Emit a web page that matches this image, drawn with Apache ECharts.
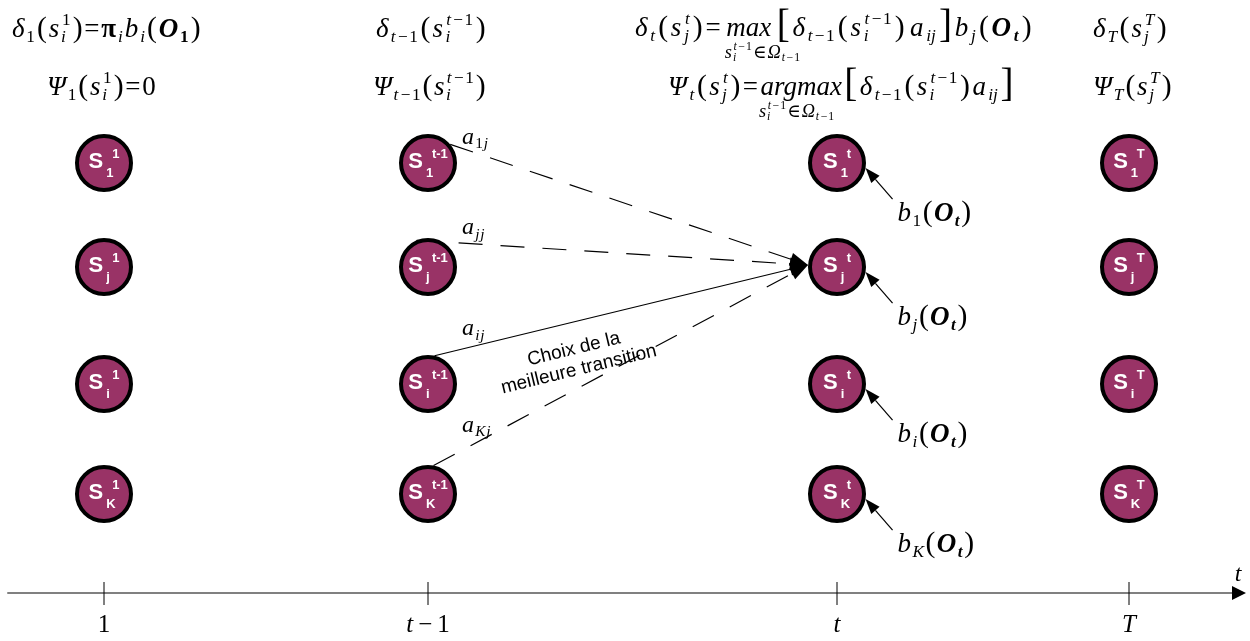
<!DOCTYPE html>
<html><head><meta charset="utf-8">
<script src="https://cdn.jsdelivr.net/npm/echarts@6/dist/echarts.min.js"></script>
<style>html,body{margin:0;padding:0;background:#fff}#c{width:1250px;height:641px}</style>
</head><body><div id="c"></div>
<script>
// ---------------- data ----------------
const timeLabels = ['1', 't−1', 't', 'T'];          // time steps shown on the axis
const timePos = [104, 428, 837, 1129];              // axis values of the time steps
const stateLabels = ['1', 'j', 'i', 'K'];           // state indices (rows)
const statePos = [163, 267, 384, 494];              // vertical values of the rows
const stepSuperscripts = ['1', 't-1', 't', 'T'];    // superscript in every node of a column
const transitionFrom = [0, 1, 2, 3];                // rows at t-1 feeding state j at t
const transitionTo = 1;
const transitionSubs = ['1j', 'jj', 'ij', 'Kj'];
const transitionBest = [0, 0, 1, 0];
const emissionSubs = ['1', 'j', 'i', 'K'];
const bestLabel = 'Choix de la\nmeilleure transition';

// ---------------- styles ----------------
const SERIF = '"Liberation Serif", "DejaVu Serif", serif';
const SANS = '"Liberation Sans", Arial, sans-serif';
const NODE_FILL = '#993366';
const R = 27, RO = 29;
const X_MIN = 8, X_MAX = 1235, Y_MAX = 593;
const startAngles = [-40, -113, -77, -79];
const SCRIPT = 0.64, LIMS = 0.68, SP = 0.05;

const mctx = document.createElement('canvas').getContext('2d');
function measure(text, st, wt, sz, fam) {
  mctx.font = `${st} ${wt} ${sz}px ${fam || SERIF}`;
  return mctx.measureText(text).width;
}
// ---- tiny math layout ----
const I = t => [t, 'i'], Rm = t => [t, 'r'], BI = t => [t, 'b'], BR = t => [t, 'B'];
const LP = ['(', 'r', 1.1, 0.02], RP = [')', 'r', 1.1, 0.02];
const LB = ['[', 'r', 1.45, 0.06], RB = [']', 'r', 1.45, 0.06];
const sub = (...a) => ({ sub: a });
const ss = (b, p) => ({ sub: b, sup: p });
const gap = g => ({ gap: g });
const scr = ch => /[0-9]/.test(ch) ? Rm(ch) : I(ch);
const tm1 = [I('t'), gap(0.08), Rm('−'), gap(0.04), Rm('1')];

function layout(tokens, size, x, base, out, extra) {
  let cx = x;
  extra = extra || 0;
  for (const tk of tokens) {
    if (Array.isArray(tk)) {
      const [text, code, scale = 1, dy = 0] = tk;
      const sz = size * scale;
      const st = (code === 'i' || code === 'b') ? 'italic' : 'normal';
      const wt = (code === 'b' || code === 'B') ? 'bold' : 'normal';
      const w = measure(text, st, wt, sz);
      if (out) out.push({
        type: 'text', x: cx, y: base + dy * size - 0.34 * sz, silent: true,
        style: { text, fontSize: sz, fontFamily: SERIF, fontStyle: st, fontWeight: wt,
                 fill: '#000', align: 'left', verticalAlign: 'middle' }
      });
      cx += w + SP * size;
    } else if (tk.gap !== undefined) {
      cx += tk.gap * size;
      continue;
    } else if (tk.under) {
      const wU = layout(tk.under, size, cx, base, out);
      layout(tk.lim, size * LIMS, cx - 0.05 * size, base + 0.78 * size, out);
      cx += wU;
    } else {
      const s2 = size * SCRIPT;
      let w1 = 0, w2 = 0;
      if (tk.sub) w1 = layout(tk.sub, s2, cx, base + 0.15 * size, out);
      if (tk.sup) w2 = layout(tk.sup, s2, cx + 0.03 * size, base - 0.46 * size, out);
      cx += Math.max(w1, w2 + 0.03 * size) + 0.03 * size;
    }
    cx += extra;
  }
  return cx - x - extra;
}
// lay a formula out so that it spans [x0, x1], spreading the spare room between its parts
function justified(tokens, size, x0, x1, base, out) {
  const w = layout(tokens, size, 0, 0, null);
  const n = tokens.filter(t => !(t && t.gap !== undefined)).length;
  const extra = n > 1 ? (x1 - x0 - w) / (n - 1) : 0;
  layout(tokens, size, x0, base, out, extra);
}

const LIM = [I('s'), ss([I('i')], tm1), Rm('∈'), I('Ω'), sub(...tm1)];
const formulas = [
  // [tokens, left, right, baseline]
  [[I('δ'), sub(Rm('1')), LP, I('s'), ss([I('i')], [Rm('1')]), RP, Rm('='), BR('π'), sub(I('i')), I('b'), sub(I('i')), LP, BI('O'), sub(BR('1')), RP], 12, 202, 39],
  [[I('δ'), sub(...tm1), LP, I('s'), ss([I('i')], tm1), RP], 376, 487, 39],
  [[I('δ'), sub(I('t')), LP, I('s'), ss([I('j')], [I('t')]), RP, Rm('='), gap(0.1), { under: [I('max')], lim: LIM }, gap(0.1), LB, I('δ'), sub(...tm1), LP, I('s'), ss([I('i')], tm1), RP, gap(0.1), I('a'), sub(I('ij')), RB, I('b'), sub(I('j')), LP, BI('O'), sub(BI('t')), RP], 635, 1033, 38],
  [[I('δ'), sub(I('T')), LP, I('s'), ss([I('j')], [I('T')]), RP], 1093, 1168, 39],
  [[I('Ψ'), sub(Rm('1')), LP, I('s'), ss([I('i')], [Rm('1')]), RP, Rm('='), Rm('0')], 47, 157, 97],
  [[I('Ψ'), sub(...tm1), LP, I('s'), ss([I('i')], tm1), RP], 373, 487, 97],
  [[I('Ψ'), sub(I('t')), LP, I('s'), ss([I('j')], [I('t')]), RP, Rm('='), { under: [I('argmax')], lim: LIM }, LB, I('δ'), sub(...tm1), LP, I('s'), ss([I('i')], tm1), RP, I('a'), sub(I('ij')), RB], 668, 1015, 97],
  [[I('Ψ'), sub(I('T')), LP, I('s'), ss([I('j')], [I('T')]), RP], 1093, 1173, 97]
];
const formulaEls = [];
formulas.forEach(f => justified(f[0], 27, f[1], f[2], f[3], formulaEls));

function richTime(label) {
  return label.split('').map(c => /[A-Za-z]/.test(c) ? `{i|${c}}` : (c === '−' ? `{r|\u2009−\u2009}` : `{r|${c}}`)).join('');
}

// ---------------- series data ----------------
const nodeData = [];
timePos.forEach((x, c) => statePos.forEach((y, r) => nodeData.push([x, y, c, r])));
const transData = transitionFrom.map((r, k) => [timePos[1], statePos[r], timePos[2], statePos[transitionTo], k]);
const emisData = emissionSubs.map((s, r) => [timePos[2], statePos[r], r]);
const tickData = timePos.map(x => [x, Y_MAX]);

const chart = echarts.init(document.getElementById('c'), null, { renderer: 'canvas' });
chart.setOption({
  animation: false,
  backgroundColor: '#fff',
  grid: { left: X_MIN, right: 1250 - X_MAX, top: 0, bottom: 641 - Y_MAX },
  xAxis: {
    type: 'value', min: X_MIN, max: X_MAX, splitLine: { show: false },
    axisLine: { show: true, onZero: false, lineStyle: { color: '#808080', width: 2 } },
    axisTick: { show: false },
    axisLabel: {
      show: true, customValues: timePos, margin: 20, color: '#000',
      formatter: v => richTime(timeLabels[timePos.indexOf(v)]),
      rich: {
        i: { fontFamily: SERIF, fontStyle: 'italic', fontSize: 25, color: '#000' },
        r: { fontFamily: SERIF, fontSize: 25, color: '#000' }
      }
    },
    name: 't', nameLocation: 'end', nameGap: 3,
    nameTextStyle: { fontFamily: SERIF, fontStyle: 'italic', fontSize: 24, color: '#000',
                     align: 'center', verticalAlign: 'bottom', padding: [0, 0, 6, 0] }
  },
  yAxis: { type: 'value', min: 0, max: Y_MAX, inverse: true, show: false },
  graphic: [{ type: 'group', x: 0, y: 0, silent: true, children: formulaEls }],
  series: [
    { // axis ticks and arrow
      type: 'custom', z: 1, silent: true, clip: false, data: tickData,
      renderItem(params, api) {
        const p = api.coord([api.value(0), api.value(1)]);
        const ch = [{ type: 'line', shape: { x1: p[0], y1: p[1] - 11, x2: p[0], y2: p[1] + 12 },
                      style: { stroke: '#000', lineWidth: 1 } }];
        if (params.dataIndex === 0) {
          const cs = params.coordSys, ex = cs.x + cs.width;
          ch.push({ type: 'polygon', shape: { points: [[ex - 3, p[1] - 7], [ex + 11, p[1]], [ex - 3, p[1] + 7]] },
                    style: { fill: '#000' } });
        }
        return { type: 'group', children: ch };
      }
    },
    { // transitions
      type: 'custom', z: 2, silent: true, clip: false, data: transData,
      encode: { x: [0, 2], y: [1, 3] },
      renderItem(params, api) {
        const s = api.coord([api.value(0), api.value(1)]);
        const t = api.coord([api.value(2), api.value(3)]);
        const k = api.value(4);
        const a = startAngles[k] * Math.PI / 180;
        const P0 = [s[0] + RO * Math.cos(a), s[1] + RO * Math.sin(a)];
        const tip = [t[0] - RO, t[1] - 2];
        const dx = tip[0] - P0[0], dy = tip[1] - P0[1], L = Math.hypot(dx, dy);
        const ux = dx / L, uy = dy / L, AL = 18, AW = 13;
        const b = [tip[0] - ux * AL, tip[1] - uy * AL];
        const best = transitionBest[k] === 1;
        const ch = [
          { type: 'line', shape: { x1: P0[0], y1: P0[1], x2: b[0], y2: b[1] },
            style: { stroke: '#000', lineWidth: 1.2, lineDash: best ? null : [24, 18] } },
          { type: 'polygon', shape: { points: [tip, [b[0] - uy * AW / 2, b[1] + ux * AW / 2], [b[0] + uy * AW / 2, b[1] - ux * AW / 2]] },
            style: { fill: '#000' } }
        ];
        const lx = s[0] + 34, ly = P0[1] + (s[0] + 50 - P0[0]) * dy / dx - 8;
        layout([I('a'), sub(...transitionSubs[k].split('').map(scr))], 24, lx, ly, ch);
        if (best) {
          const m = [P0[0] + ux * 137 - uy * 37, P0[1] + uy * 137 + ux * 37];
          ch.push({ type: 'text', x: m[0], y: m[1], rotation: -Math.atan2(dy, dx),
                    style: { text: bestLabel, fontFamily: SANS, fontSize: 19, lineHeight: 21,
                             fill: '#000', align: 'center', verticalAlign: 'middle' } });
        }
        return { type: 'group', children: ch };
      }
    },
    { // emission arrows
      type: 'custom', z: 2, silent: true, clip: false, data: emisData,
      renderItem(params, api) {
        const c = api.coord([api.value(0), api.value(1)]);
        const r = api.value(2);
        const a = 10 * Math.PI / 180;
        const tip = [c[0] + RO * Math.cos(a), c[1] + RO * Math.sin(a)];
        const tail = [tip[0] + 27, tip[1] + 31];
        const dx = tip[0] - tail[0], dy = tip[1] - tail[1], L = Math.hypot(dx, dy);
        const ux = dx / L, uy = dy / L, AL = 15, AW = 11;
        const b = [tip[0] - ux * AL, tip[1] - uy * AL];
        const ch = [
          { type: 'line', shape: { x1: tail[0], y1: tail[1], x2: b[0], y2: b[1] }, style: { stroke: '#000', lineWidth: 1.2 } },
          { type: 'polygon', shape: { points: [tip, [b[0] - uy * AW / 2, b[1] + ux * AW / 2], [b[0] + uy * AW / 2, b[1] - ux * AW / 2]] },
            style: { fill: '#000' } }
        ];
        layout([I('b'), sub(scr(emissionSubs[r])), LP, BI('O'), sub(BI('t')), RP], 27, tail[0] + 5, tail[1] + 24, ch);
        return { type: 'group', children: ch };
      }
    },
    { // state nodes
      type: 'custom', z: 3, silent: true, clip: false, data: nodeData,
      renderItem(params, api) {
        const p = api.coord([api.value(0), api.value(1)]);
        const c = api.value(2), r = api.value(3);
        const sup = stepSuperscripts[c], sb = stateLabels[r];
        const wS = measure('S', 'normal', 'bold', 22, SANS);
        const wSup = measure(sup, 'normal', 'bold', 13, SANS);
        const wSub = measure(sb, 'normal', 'bold', 13, SANS);
        const block = wS + Math.max(9 + wSup, 3 + wSub);
        const left = p[0] - block / 2;
        const txt = (text, x, y, sz) => ({ type: 'text', x, y,
          style: { text, fontFamily: SANS, fontWeight: 'bold', fontSize: sz, fill: '#fff', align: 'left', verticalAlign: 'middle' } });
        return { type: 'group', children: [
          { type: 'circle', shape: { cx: p[0], cy: p[1], r: R }, style: { fill: NODE_FILL, stroke: '#000', lineWidth: 4 } },
          txt('S', left, p[1] - 1, 22),
          txt(sup, left + wS + 9, p[1] - 9, 13),
          txt(sb, left + wS + 3, p[1] + 10, 13)
        ] };
      }
    }
  ]
});
</script>
</body></html>
